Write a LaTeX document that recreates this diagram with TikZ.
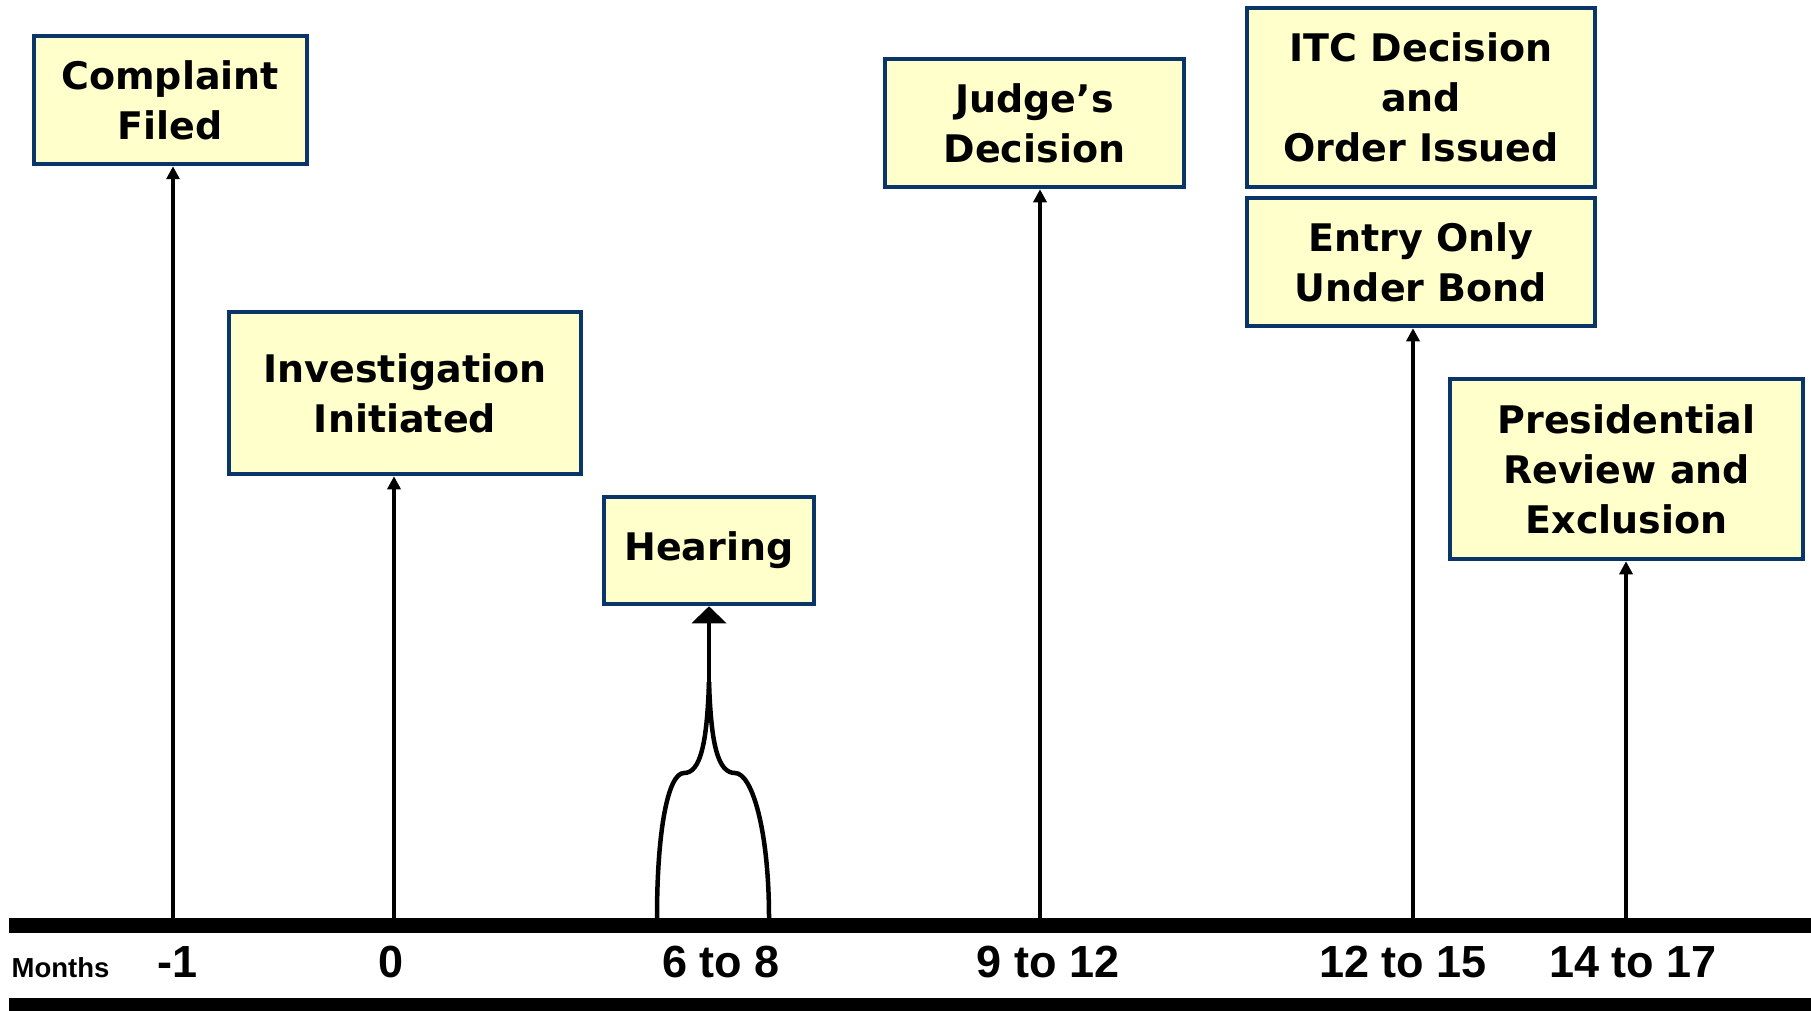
\documentclass[tikz,border=0pt]{standalone}
\usepackage{fontspec}
\setmainfont{DejaVu Sans}
\newfontfamily\axisfont{Liberation Sans}
\usetikzlibrary{arrows.meta}
\definecolor{boxfill}{HTML}{FFFFCC}
\definecolor{boxline}{HTML}{0A3568}
\begin{document}
\begin{tikzpicture}[x=1pt,y=-1pt,
  evbox/.style={draw=boxline, fill=boxfill, line width=4.5pt, inner sep=0pt, align=center,
    font=\fontsize{38}{50}\selectfont\bfseries},
  conn/.style={line width=3.5pt, -{Triangle[length=13pt,width=13pt]}},
  bigconn/.style={line width=4.5pt, -{Triangle[length=17pt,width=34pt]}},
  curve/.style={line width=4.5pt},
  ticklab/.style={font=\axisfont\bfseries\fontsize{45}{50}\selectfont, anchor=center, inner sep=0pt},
  monthlab/.style={font=\axisfont\bfseries\fontsize{27.5}{30}\selectfont, anchor=center, inner sep=0pt},
  bar/.style={fill=black}]
\useasboundingbox (0,0) rectangle (1811,1011);
\fill[white] (0,0) rectangle (1811,1011);

% boxes
\node[evbox, minimum width=273pt, minimum height=128pt] (cf) at (170.25,100) {Complaint\\Filed};
\node[evbox, minimum width=352pt, minimum height=162pt] (ii) at (405,393) {Investigation\\Initiated};
\node[evbox, minimum width=210pt, minimum height=107pt] (hr) at (709,550.5) {Hearing};
\node[evbox, minimum width=299pt, minimum height=128pt] (jd) at (1034.5,123) {Judge’s\\Decision};
\node[evbox, minimum width=348pt, minimum height=179pt] (itc) at (1421,97.5) {ITC Decision\\and\\Order Issued};
\node[evbox, minimum width=348pt, minimum height=128pt] (eb) at (1421,262) {Entry Only\\Under Bond};
\node[evbox, minimum width=353pt, minimum height=180pt] (pr) at (1626.5,469) {Presidential\\Review and\\Exclusion};

% axis points
\coordinate (a1) at (173,918);
\coordinate (a2) at (394,918);
\coordinate (hl) at (657,918);
\coordinate (hrr) at (769,918);
\coordinate (a4) at (1040,918);
\coordinate (a5) at (1413,918);
\coordinate (a6) at (1626,918);
\coordinate (hm) at (709,682);

% connectors
\draw[conn] (a1) -- (a1 |- cf.south);
\draw[conn] (a2) -- (a2 |- ii.south);
\draw[conn] (a4) -- (a4 |- jd.south);
\draw[conn] (a5) -- (a5 |- eb.south);
\draw[conn] (a6) -- (a6 |- pr.south);
\draw[curve] (hl) .. controls (657,830) and (668,773) .. (684,773) .. controls (700,773) and (707,745) .. (hm);
\draw[curve] (hrr) .. controls (769,830) and (752,773) .. (735,773) .. controls (718,773) and (711,745) .. (hm);
\draw[bigconn] (hm) -- (hr.south);

% axis bars
\fill[bar] (9,918) rectangle (1811,933);
\fill[bar] (9,998) rectangle (1811,1011);

% labels
\node[monthlab] (mo) at (60.5,968) {Months};
\node[ticklab] (l1) at (178,962) {-1};
\node[ticklab] (l2) at (391.5,962) {0};
\node[ticklab] (l3) at (721,962) {6 to 8};
\node[ticklab] (l4) at (1048,962) {9 to 12};
\node[ticklab] (l5) at (1403,962) {12 to 15};
\node[ticklab] (l6) at (1633,962) {14 to 17};
\end{tikzpicture}
\end{document}
